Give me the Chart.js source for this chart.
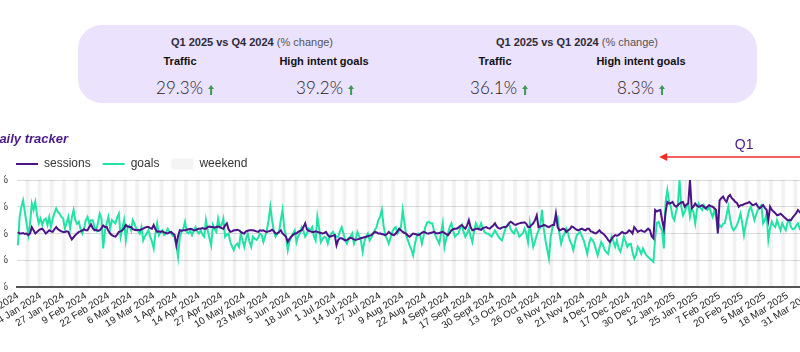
<!DOCTYPE html>
<html>
<head>
<meta charset="utf-8">
<script src="https://cdn.jsdelivr.net/npm/chart.js@4.4.1/dist/chart.umd.min.js"></script>
<style>
  html, body { margin: 0; padding: 0; }
  body { width: 800px; height: 352px; position: relative; overflow: hidden; background: #fff; font-family: "Liberation Sans", Arial, sans-serif; }
  .panel { position: absolute; left: 78px; top: 25px; width: 679px; height: 78px; border-radius: 24px; background: #ebe2fd; }
  .c { position: absolute; transform: translateX(-50%); white-space: nowrap; }
  .head { font-size: 11px; line-height: 14px; color: #2e2b38; }
  .head b { font-weight: bold; }
  .head span { color: #555; }
  .metric { font-size: 11px; line-height: 14px; font-weight: bold; color: #111; }
  .val { font-family: Lato, "Open Sans", sans-serif; font-weight: 300; font-size: 17px; line-height: 20px; color: #1c1c1c; }
  .val svg { margin-left: 5px; vertical-align: -1px; }
  .title { position: absolute; left: -10px; top: 131px; font-size: 13px; line-height: 16px; font-weight: bold; font-style: italic; color: #4a1a8a; z-index: 2; }
  #wrap { position: absolute; left: -40px; top: 132px; width: 900px; height: 220px; }
</style>
</head>
<body>

<div class="panel"></div>
<div class="c head" style="left:252px; top:35px;"><b>Q1 2025 vs Q4 2024</b> <span>(% change)</span></div>
<div class="c metric" style="left:180px; top:54px;">Traffic</div>
<div class="c metric" style="left:324px; top:54px;">High intent goals</div>
<div class="c val" style="left:185px; top:78px;">29.3%<svg width="6" height="10"><path d="M3 0 L6 4 L4 4 L4 10 L2 10 L2 4 L0 4 Z" fill="#3b9a55"/></svg></div>
<div class="c val" style="left:325px; top:78px;">39.2%<svg width="6" height="10"><path d="M3 0 L6 4 L4 4 L4 10 L2 10 L2 4 L0 4 Z" fill="#3b9a55"/></svg></div>

<div class="c head" style="left:577px; top:35px;"><b>Q1 2025 vs Q1 2024</b> <span>(% change)</span></div>
<div class="c metric" style="left:495px; top:54px;">Traffic</div>
<div class="c metric" style="left:641px; top:54px;">High intent goals</div>
<div class="c val" style="left:499px; top:78px;">36.1%<svg width="6" height="10"><path d="M3 0 L6 4 L4 4 L4 10 L2 10 L2 4 L0 4 Z" fill="#3b9a55"/></svg></div>
<div class="c val" style="left:641px; top:78px;">8.3%<svg width="6" height="10"><path d="M3 0 L6 4 L4 4 L4 10 L2 10 L2 4 L0 4 Z" fill="#3b9a55"/></svg></div>

<div class="title">Daily tracker</div>
<div id="wrap"><canvas id="tracker" width="900" height="220"></canvas></div>

<script>
// daily sessions, % of average, from 1 Jan 2024
const sessions = [
  103,100,100,101,99,100,97,100,112,106,
  100,103,106,108,109,105,100,103,106,104,
  103,108,112,108,106,104,103,103,104,103,
  95,89,93,97,100,103,104,106,108,106,
  106,112,117,110,106,107,105,106,110,115,
  112,112,105,100,97,95,94,98,103,104,
  106,110,116,113,112,112,108,107,106,107,
  106,108,109,111,112,112,110,109,116,108,
  103,104,103,104,102,101,100,102,103,100,
  97,78,95,106,105,106,106,107,108,109,
  108,106,106,108,109,109,110,109,109,112,
  113,112,112,111,112,113,112,110,109,115,
  119,108,103,104,106,106,107,106,103,101,
  100,104,105,106,106,106,105,104,103,106,
  105,106,104,103,104,105,107,104,100,100,
  103,106,100,97,94,84,90,94,97,100,
  100,103,105,106,112,119,108,105,104,103,
  103,104,103,102,101,100,101,103,97,94,
  95,96,97,78,88,91,91,89,87,88,
  90,92,91,89,88,89,90,91,92,93,
  94,95,96,97,100,103,102,100,100,99,
  98,97,99,103,100,98,97,100,104,109,
  106,103,101,100,96,94,97,100,99,98,
  97,99,101,103,102,100,100,101,102,103,
  101,100,101,102,103,101,99,97,101,106,
  108,109,109,111,114,116,112,109,115,125,
  112,106,107,109,109,108,107,110,111,112,
  110,109,112,115,119,113,110,109,111,112,
  112,114,119,122,120,117,116,118,119,120,
  120,121,118,112,112,116,119,125,134,112,
  113,114,116,115,113,112,114,116,116,137,
  112,106,107,109,108,103,106,108,113,112,
  109,107,106,108,109,107,106,109,109,104,
  103,101,100,103,106,102,100,97,93,88,
  84,90,94,97,96,97,100,103,101,100,
  102,106,104,100,112,108,103,105,106,104,
  103,106,109,106,95,91,144,141,143,144,
  125,109,140,159,156,157,159,153,150,153,
  156,158,159,150,154,156,200,147,150,156,
  152,150,151,153,150,147,150,153,151,150,
  147,144,100,162,166,169,163,159,169,172,
  166,163,159,157,150,153,153,155,156,157,
  159,156,153,154,156,150,147,150,153,148,
  144,125,150,144,141,138,134,135,137,134,
  131,128,125,125,125,130,134,138,144,140,
  137,135,134,132,133,131
];

// daily high intent goals, % of average
const goals = [
  78,130,150,162,140,119,97,119,156,144,
  159,135,119,128,116,125,128,116,131,112,
  128,138,147,140,137,131,128,109,120,131,
  109,130,144,125,118,122,108,100,109,125,
  131,119,125,125,112,106,120,137,128,72,
  105,119,131,109,125,122,119,130,137,94,
  110,125,88,112,115,106,125,118,109,105,
  100,112,87,95,100,106,94,85,72,100,
  119,97,103,106,97,100,109,104,100,96,
  94,80,56,94,103,109,122,103,100,106,
  97,105,112,104,100,106,98,94,125,106,
  92,78,116,108,103,128,112,116,128,94,
  98,100,84,76,69,78,81,75,100,88,
  75,90,100,85,75,94,90,88,92,100,
  97,84,95,106,125,150,125,105,94,100,
  103,125,144,110,94,69,85,94,100,106,
  84,95,100,112,105,94,100,109,106,112,
  95,87,131,110,84,90,94,92,81,95,
  100,103,97,94,94,105,112,100,87,81,
  92,94,100,81,90,103,95,87,66,85,
  94,100,87,92,100,106,112,125,131,144,
  115,97,90,81,92,103,109,112,100,106,
  112,144,120,97,87,78,70,59,80,94,
  100,97,81,95,112,120,122,119,119,105,
  94,88,81,100,119,75,90,100,112,119,
  105,94,98,100,110,116,103,94,100,109,
  95,84,105,119,112,109,119,110,103,100,
  100,97,94,100,106,100,94,90,87,98,
  109,115,119,108,103,100,109,103,94,97,
  100,109,100,84,119,95,75,85,97,106,
  112,144,110,87,70,53,94,110,122,128,
  131,100,81,94,100,109,100,87,80,69,
  85,97,100,103,94,87,75,62,80,91,
  88,81,70,59,72,84,78,69,65,62,
  80,94,85,75,87,72,66,78,94,85,
  75,80,81,65,53,60,75,70,62,72,
  65,59,56,53,50,47,91,120,122,112,
  106,72,159,181,160,150,131,125,141,153,
  200,150,134,141,150,156,131,147,140,119,
  144,156,148,144,153,147,144,150,140,131,
  144,130,106,116,112,118,119,135,150,128,
  112,106,110,116,125,137,120,97,116,130,
  144,150,138,125,135,144,150,153,119,125,
  137,88,110,122,115,112,125,115,106,119,
  112,106,120,125,112,108,109,115,119,109,
  112,118,106,110,115,108
];

const monthNames = ['Jan','Feb','Mar','Apr','May','Jun','Jul','Aug','Sept','Oct','Nov','Dec'];
const yTicks = [0, 50, 100, 150, 200];
const tickEvery = 13;        // one date label every 13 days
const q1Label = '1 Jan 2025';

// date categories + weekend flags
const days = [];
const weekend = [];
for (let i = 0; i < sessions.length; i++) {
  const d = new Date(2024, 0, 1 + i);
  days.push(d.getDate() + ' ' + monthNames[d.getMonth()] + ' ' + d.getFullYear());
  weekend.push(d.getDay() === 0 || d.getDay() === 6 ? yTicks[yTicks.length - 1] : null);
}

// red "Q1" arrow above the plot
const q1Arrow = {
  id: 'q1Arrow',
  afterDraw(chart) {
    const ctx = chart.ctx;
    const tip = chart.scales.x.getPixelForValue(days.indexOf(q1Label)) + 4;
    const y = 25;
    ctx.save();
    ctx.strokeStyle = '#f42b2b';
    ctx.fillStyle = '#f42b2b';
    ctx.lineWidth = 1.5;
    ctx.beginPath();
    ctx.moveTo(tip + 6, y);
    ctx.lineTo(chart.width, y);
    ctx.stroke();
    ctx.beginPath();
    ctx.moveTo(tip, y);
    ctx.lineTo(tip + 8, y - 4);
    ctx.lineTo(tip + 8, y + 4);
    ctx.closePath();
    ctx.fill();
    ctx.fillStyle = '#4a1a8a';
    ctx.font = '14px "Liberation Sans", Arial, sans-serif';
    ctx.textAlign = 'center';
    ctx.textBaseline = 'middle';
    ctx.fillText('Q1', tip + 85, 13);
    ctx.restore();
  }
};

Chart.defaults.font.family = '"Liberation Sans", Arial, sans-serif';
Chart.defaults.color = '#333';

const ctx = document.getElementById('tracker').getContext('2d');
const myChart = new Chart(ctx, {
  type: 'line',
  data: {
    labels: days,
    datasets: [{
      label: 'sessions',
      data: sessions,
      borderColor: '#4b1587',
      backgroundColor: '#4b1587',
      borderWidth: 2,
      pointRadius: 0,
      pointStyle: 'line',
      order: 0
    }, {
      label: 'goals',
      data: goals,
      borderColor: '#22e3a5',
      backgroundColor: '#22e3a5',
      borderWidth: 2,
      pointRadius: 0,
      pointStyle: 'line',
      order: 1
    }, {
      type: 'bar',
      label: 'weekend',
      data: weekend,
      backgroundColor: 'rgba(0, 0, 0, 0.045)',
      borderWidth: 0,
      barPercentage: 1,
      categoryPercentage: 1,
      pointStyle: 'rect',
      order: 2
    }]
  },
  options: {
    responsive: false,
    animation: false,
    layout: { padding: { left: 44, right: 49, top: 14, bottom: 0 } },
    plugins: {
      tooltip: { enabled: false },
      title: { display: false },
      legend: {
        position: 'top',
        align: 'start',
        labels: {
          usePointStyle: true,
          pointStyleWidth: 22,
          boxHeight: 11,
          padding: 12,
          color: '#333',
          font: { size: 12 }
        }
      }
    },
    scales: {
      x: {
        grid: { display: false, drawTicks: false },
        border: { display: true, color: '#555', width: 2, z: 1 },
        ticks: {
          autoSkip: false,
          minRotation: 32,
          maxRotation: 32,
          padding: 3,
          color: '#222',
          font: { size: 10 },
          callback: function (value, index) {
            return index % tickEvery === 0 ? days[index] : '';
          }
        },
        afterFit: function (scale) {
          scale.height = 65;
          scale.paddingLeft = 0;
          scale.paddingRight = 0;
        }
      },
      y: {
        min: yTicks[0],
        max: yTicks[yTicks.length - 1],
        grid: { color: '#dcdcdc', drawTicks: false },
        border: { display: false },
        ticks: {
          stepSize: 50,
          padding: 9,
          color: '#333',
          font: { size: 11 },
          callback: function (value) { return value + '%'; }
        },
        afterFit: function (scale) {
          scale.width = 13;
        }
      }
    }
  },
  plugins: [q1Arrow]
});
</script>
</body>
</html>
